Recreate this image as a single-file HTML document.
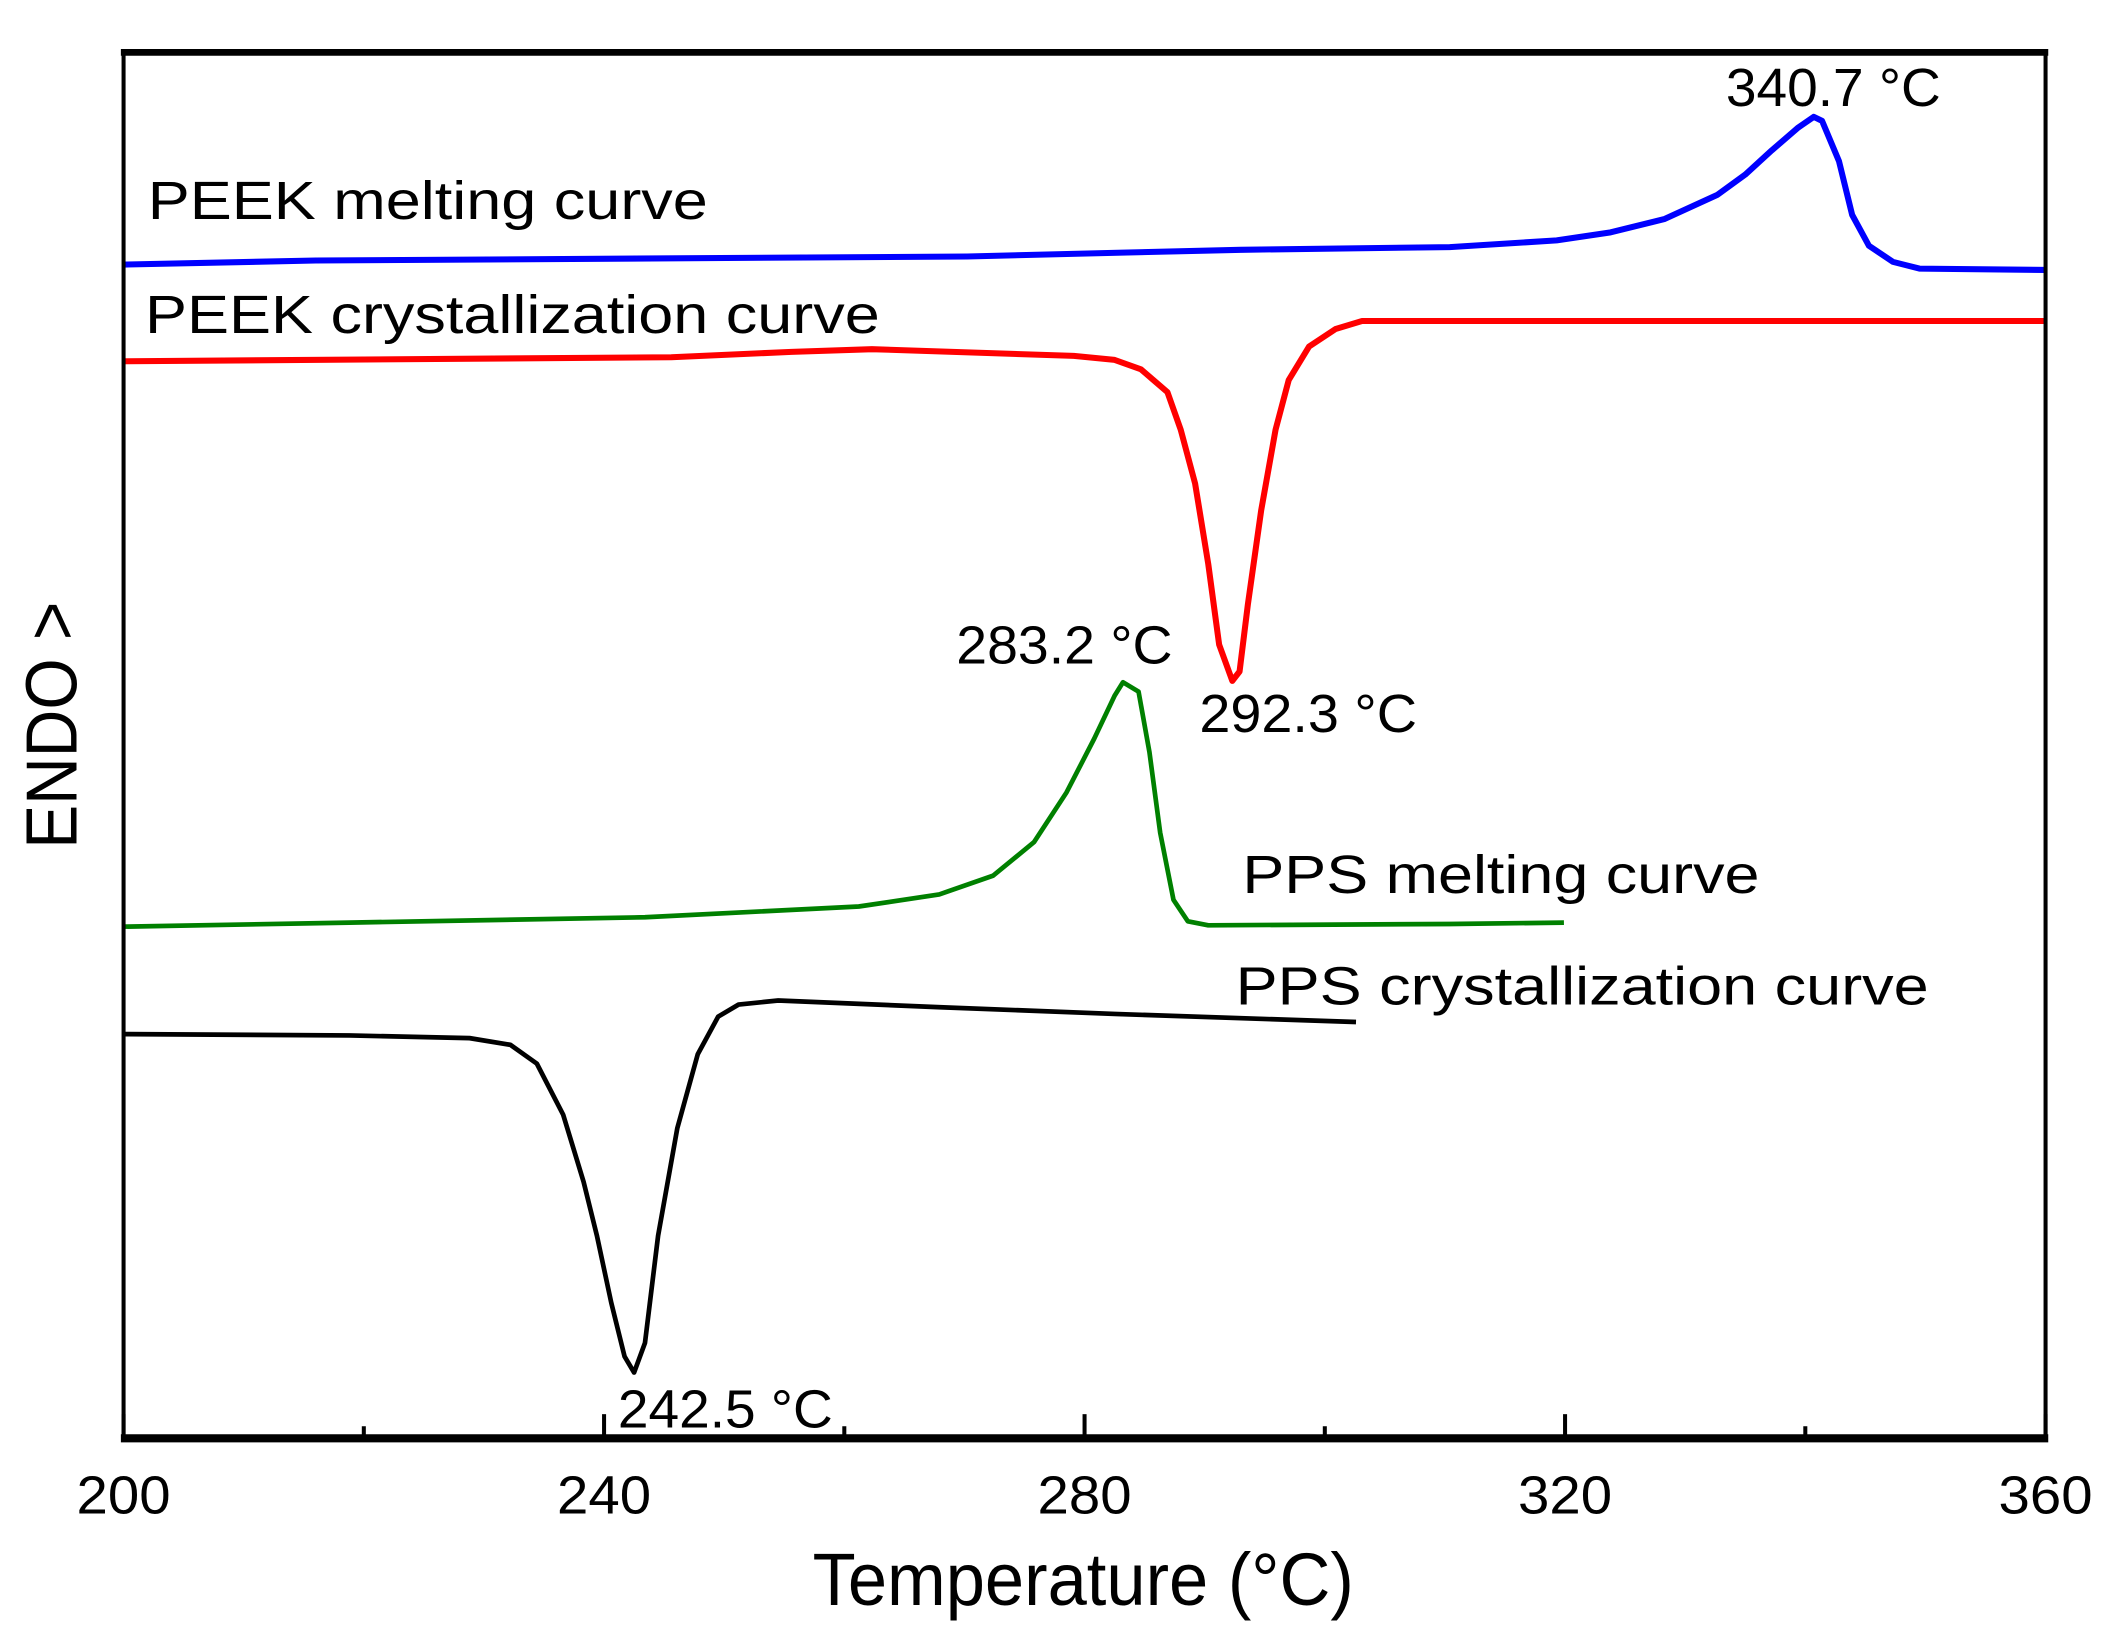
<!DOCTYPE html>
<html><head><meta charset="utf-8">
<style>
html,body{margin:0;padding:0;background:#fff;}
svg{display:block;}
text{font-family:"Liberation Sans",sans-serif;}
</style></head>
<body>
<svg id="chart" width="2106" height="1625" viewBox="0 0 1568 1210" preserveAspectRatio="none" xmlns="http://www.w3.org/2000/svg">
  <rect width="1568" height="1210" fill="#fff"/>
  <g id="curves"></g>
  <g id="frame">
    <line x1="92" y1="38" x2="92" y2="1072" stroke="#000" stroke-width="3"/>
    <line x1="1523" y1="38" x2="1523" y2="1072" stroke="#000" stroke-width="3"/>
    <line x1="90" y1="39" x2="1525" y2="39" stroke="#000" stroke-width="5"/>
    <line x1="90" y1="1071" x2="1525" y2="1071" stroke="#000" stroke-width="6"/>
  </g>
  <g id="ticks"></g>
  <g id="labels">
    <text x="110" y="163" font-size="40" textLength="417" lengthAdjust="spacingAndGlyphs">PEEK melting curve</text>
    <text x="108" y="248" font-size="40" textLength="547" lengthAdjust="spacingAndGlyphs">PEEK crystallization curve</text>
    <text x="1285" y="79" font-size="40" textLength="160" lengthAdjust="spacingAndGlyphs">340.7 °C</text>
    <text x="893" y="545" font-size="40" textLength="162" lengthAdjust="spacingAndGlyphs">292.3 °C</text>
    <text x="712" y="494" font-size="40" textLength="161" lengthAdjust="spacingAndGlyphs">283.2 °C</text>
    <text x="925" y="665" font-size="40" textLength="385" lengthAdjust="spacingAndGlyphs">PPS melting curve</text>
    <text x="920" y="748" font-size="40" textLength="516" lengthAdjust="spacingAndGlyphs">PPS crystallization curve</text>
    <text x="460" y="1063" font-size="40" textLength="160" lengthAdjust="spacingAndGlyphs">242.5 °C</text>
    <text x="605" y="1195" font-size="55" textLength="403" lengthAdjust="spacingAndGlyphs">Temperature (°C)</text>
    <text transform="translate(57,632) rotate(-90)" font-size="54" textLength="184" lengthAdjust="spacingAndGlyphs">ENDO &gt;</text>
  </g>
</svg>
<script>
const xTicks = [200, 240, 280, 320, 360];
const xMinorTicks = [220, 260, 300, 340];
const peekMeltT = [200, 216, 270.2, 283.6, 293, 310.4, 319.3, 323.8, 328.3, 332.7, 335, 337.2, 339.4, 340.7, 341.4, 342.8, 343.9, 345.3, 347.3, 349.5, 360];
const peekMeltV = [875, 878, 881, 884, 886, 888, 893, 899, 909, 927, 942, 960, 977, 985, 982, 952, 912, 889, 877, 872, 871];
const peekCrysT = [200, 245.6, 255.6, 262.3, 279.1, 282.5, 284.7, 286.9, 288, 289.2, 290.3, 291.2, 292.3, 292.9, 293.6, 294.7, 295.9, 297, 298.7, 300.9, 303.1, 360];
const peekCrysV = [803, 806, 810, 812, 807, 804, 797, 780, 752, 712, 652, 592, 565, 572, 622, 692, 752, 789, 814, 827, 833, 833];
const ppsMeltT = [200, 218.8, 243.4, 261.2, 267.9, 272.4, 275.8, 278.5, 280.8, 282.5, 283.2, 284.5, 285.4, 286.3, 287.4, 288.6, 290.3, 310.4, 319.9];
const ppsMeltV = [382, 385, 389, 397, 406, 420, 445, 482, 522, 554, 564, 557, 512, 452, 402, 386, 383, 384, 385];
const ppsCrysT = [200, 218.8, 228.8, 232.2, 234.4, 236.6, 238.3, 239.4, 240.6, 241.7, 242.5, 243.4, 244.5, 246.1, 247.8, 249.5, 251.2, 254.5, 268, 282.5, 302.6];
const ppsCrysV = [302, 301, 299, 294, 280, 242, 192, 152, 102, 62, 50, 72, 152, 232, 287, 315, 324, 327, 322, 317, 311];

const NS = "http://www.w3.org/2000/svg";
function xScale(t){ return 92 + (t - 200) / 160 * 1431; }
function yScale(v){ return 1072 - v; }

const curves = document.getElementById('curves');
function drawCurve(ts, vs, color, name, w){
  const p = document.createElementNS(NS, 'path');
  let d = '';
  for (let i = 0; i < ts.length; i++) d += (i ? 'L' : 'M') + xScale(ts[i]).toFixed(1) + ' ' + yScale(vs[i]).toFixed(1);
  p.setAttribute('d', d);
  p.setAttribute('fill', 'none');
  p.setAttribute('stroke', color);
  p.setAttribute('stroke-width', w);
  p.setAttribute('stroke-linejoin', 'round');
  
  
  curves.appendChild(p);
}
drawCurve(peekMeltT, peekMeltV, '#0000ff', 'peek-melting-curve', '4.5');
drawCurve(peekCrysT, peekCrysV, '#ff0000', 'peek-crystallization-curve', '4.5');
drawCurve(ppsMeltT, ppsMeltV, '#008000', 'pps-melting-curve', '3.5');
drawCurve(ppsCrysT, ppsCrysV, '#000000', 'pps-crystallization-curve', '3.5');

const ticks = document.getElementById('ticks');
xTicks.forEach(function(t){
  const l = document.createElementNS(NS, 'line');
  l.setAttribute('x1', xScale(t)); l.setAttribute('x2', xScale(t));
  l.setAttribute('y1', 1072); l.setAttribute('y2', 1053);
  l.setAttribute('stroke', '#000'); l.setAttribute('stroke-width', '3');
  
  
  ticks.appendChild(l);
  const tx = document.createElementNS(NS, 'text');
  tx.setAttribute('x', xScale(t)); tx.setAttribute('y', 1127);
  tx.setAttribute('text-anchor', 'middle'); tx.setAttribute('font-size', '40');
  tx.setAttribute('textLength', '70'); tx.setAttribute('lengthAdjust', 'spacingAndGlyphs');
  tx.textContent = t;
  
  
  ticks.appendChild(tx);
});
xMinorTicks.forEach(function(t){
  const l = document.createElementNS(NS, 'line');
  l.setAttribute('x1', xScale(t)); l.setAttribute('x2', xScale(t));
  l.setAttribute('y1', 1072); l.setAttribute('y2', 1062);
  l.setAttribute('stroke', '#000'); l.setAttribute('stroke-width', '3');
  
  
  ticks.appendChild(l);
});
</script>
</body></html>
